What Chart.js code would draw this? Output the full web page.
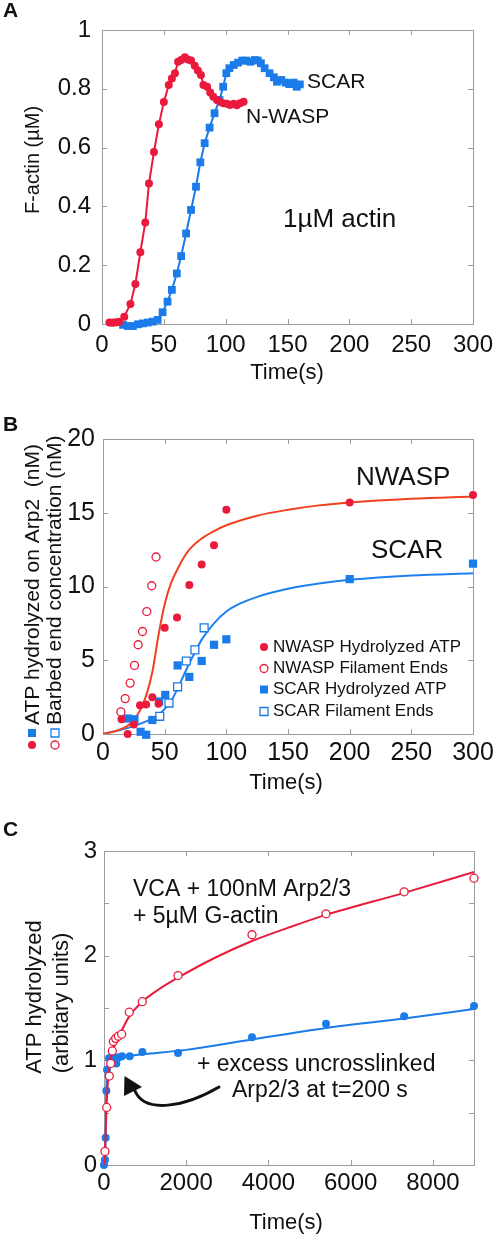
<!DOCTYPE html>
<html>
<head>
<meta charset="utf-8">
<script src="https://cdn.jsdelivr.net/npm/chart.js@4.4.1/dist/chart.umd.min.js"></script>
<style>
  body { margin: 0; background: #fff; width: 493px; height: 1237px; position: relative; overflow: hidden; }
  canvas { position: absolute; left: 0; }
</style>
</head>
<body>
<canvas id="chartA" width="493" height="398" style="top:0px"></canvas>
<canvas id="chartB" width="493" height="404" style="top:398px"></canvas>
<canvas id="chartC" width="493" height="435" style="top:802px"></canvas>
<script>
// ---- panel A : F-actin polymerisation (1 uM actin)
var aNwaspTime = [6, 8, 10, 12, 14, 18, 23, 27, 31, 35, 38, 42, 46, 50, 54, 56.5, 59, 61.5, 64, 67,
                  69.5, 72, 75, 77.5, 80, 82, 85, 87.5, 90, 93, 95.5, 98, 101, 103.5, 106.5, 109, 111.5, 114.5];
var aNwaspActin = [0.005, 0.004, 0.005, 0.006, 0.008, 0.025, 0.068, 0.136, 0.244, 0.345, 0.478, 0.585, 0.679, 0.755,
                   0.813, 0.835, 0.853, 0.892, 0.898, 0.907, 0.900, 0.896, 0.878, 0.862, 0.847, 0.813, 0.807, 0.787,
                   0.773, 0.762, 0.756, 0.751, 0.749, 0.745, 0.749, 0.744, 0.751, 0.756];
var aScarTime = [17, 21, 25, 29, 33, 37, 41, 45, 49, 53, 56.5, 60.5, 64, 68, 72, 76, 79.5, 83, 87, 91, 95, 98,
                 100.5, 103, 106.5, 110, 113.5, 116.5, 120, 123.5, 126, 128.5, 131.5, 135.5, 139, 141.5, 145,
                 148.5, 151.5, 155, 157.5, 160];
var aScarActin = [-0.003, -0.007, -0.007, -0.001, 0.002, 0.005, 0.008, 0.014, 0.04, 0.076, 0.116, 0.172, 0.231,
                  0.308, 0.388, 0.467, 0.55, 0.615, 0.668, 0.717, 0.762, 0.807, 0.853, 0.870, 0.881, 0.889, 0.896,
                  0.896, 0.892, 0.898, 0.896, 0.887, 0.870, 0.853, 0.839, 0.824, 0.830, 0.821, 0.816, 0.821, 0.807, 0.815];

// ---- panel B : ATP hydrolysis on Arp2 / barbed ends
var bNwaspAtpTime = [15, 20, 25, 30, 35, 40, 45, 50, 60, 70, 80, 90, 100, 200, 300];
var bNwaspAtp = [1.0, 0.0, 0.65, 1.95, 2.0, 2.5, 2.05, 7.2, 7.9, 10.1, 11.5, 12.8, 15.2, 15.7, 16.2];
var bNwaspEndTime = [14.5, 18, 22, 25.5, 28.5, 32, 35.5, 39.5, 43];
var bNwaspEnds = [1.5, 2.4, 3.45, 4.65, 6.05, 6.95, 8.3, 10.05, 12.0];
var bScarAtpTime = [20, 25.5, 30.5, 35, 40, 45.5, 50.5, 60.5, 70, 80, 90, 100, 200, 300];
var bScarAtp = [1.05, 1.0, 0.15, -0.05, 0.95, 2.2, 2.65, 4.65, 3.87, 4.95, 6.05, 6.42, 10.5, 11.55];
var bScarEndTime = [46, 53.5, 60.5, 67.5, 74.5, 82];
var bScarEnds = [1.2, 2.1, 3.2, 4.95, 5.7, 7.2];
var bNwaspFitTime = [0, 10, 20, 25, 30, 35, 40, 45, 50, 55, 60, 65, 70, 80, 90, 100, 125, 150, 175, 200, 250, 300];
var bNwaspFit = [0, 0.2, 0.55, 0.95, 1.6, 2.6, 4.2, 6.7, 8.8, 10.2, 11.1, 11.9, 12.5, 13.25, 13.75, 14.15, 14.8, 15.2, 15.5, 15.7, 15.95, 16.1];
var bScarFitTime = [0, 20, 35, 45, 50, 55, 60, 65, 70, 75, 80, 90, 100, 110, 125, 150, 175, 200, 250, 300];
var bScarFit = [0, 0.4, 0.85, 1.3, 1.7, 2.2, 3.0, 3.9, 4.8, 5.6, 6.4, 7.5, 8.3, 8.8, 9.3, 9.85, 10.2, 10.45, 10.75, 10.9];

// ---- panel C : long time course
var cTimeTicks = [0, 2000, 4000, 6000, 8000];
var cOpenTime = [24, 65, 129, 163, 202, 227, 284, 348, 430, 616, 932, 1800, 3600, 5400, 7300, 9000];
var cOpenAtp = [0.13, 0.55, 0.85, 0.97, 1.09, 1.18, 1.21, 1.23, 1.25, 1.46, 1.56, 1.81, 2.2, 2.4, 2.61, 2.74];
var cFilledTime = [0, 24, 40, 57, 73, 122, 187, 260, 300, 365, 438, 625, 933, 1800, 3600, 5400, 7300, 9000];
var cFilledAtp = [0, 0.05, 0.26, 0.71, 0.91, 1.02, 1.03, 1.03, 0.97, 1.03, 1.04, 1.04, 1.08, 1.07, 1.22, 1.35, 1.42, 1.52];
var cOpenFitTime = [0, 20, 40, 65, 100, 150, 200, 300, 450, 600, 900, 1300, 1800, 2700, 3600, 4500, 5400, 7300, 9000];
var cOpenFit = [0, 0.1, 0.3, 0.58, 0.82, 0.98, 1.08, 1.18, 1.3, 1.41, 1.55, 1.67, 1.79, 1.98, 2.14, 2.27, 2.39, 2.6, 2.8];
var cFilledFitTime = [0, 20, 40, 57, 75, 110, 200, 500, 1000, 2000, 3600, 5400, 7300, 9000];
var cFilledFit = [0, 0.05, 0.28, 0.72, 0.93, 1.0, 1.02, 1.04, 1.06, 1.1, 1.2, 1.31, 1.4, 1.49];

var RED = '#ea1a3c';
var BLUE = '#1b7be9';
var RED_FIT = '#f2401f';
var BLUE_FIT = '#1e80ee';
var FRAME = '#9c9c9c';
var FONT = "'Liberation Sans', Arial, Helvetica, sans-serif";

Chart.defaults.font.family = FONT;
Chart.defaults.color = '#111';
Chart.defaults.animation = false;
Chart.defaults.events = [];
Chart.defaults.plugins.legend.display = false;
Chart.defaults.plugins.tooltip.enabled = false;

function pts(xs, ys) {
    return xs.map(function (x, i) { return {x: x, y: ys[i]}; });
}

function plain(v) { return String(Math.round(v * 1000) / 1000); }

// linear axis with a fixed box size so the plot areas line up with the figure
function axis(min, max, step, size, pad, fixed, horizontal, cb, tickList) {
    var a = {
        type: 'linear', min: min, max: max,
        grid: {display: false, drawTicks: false},
        border: {display: false},
        ticks: {
            stepSize: step, font: {size: size}, padding: pad, includeBounds: false,
            maxRotation: 0, autoSkip: false, callback: cb || plain
        },
        afterFit: function (s) {
            if (horizontal) { s.height = fixed; s.paddingLeft = 0; s.paddingRight = 0; }
            else { s.width = fixed; s.paddingTop = 0; s.paddingBottom = 0; }
        }
    };
    if (tickList) {
        a.afterBuildTicks = function (s) {
            s.ticks = tickList.map(function (v) { return {value: v}; });
        };
    }
    return a;
}

// grey box with inward tick marks on all four sides
var framePlugin = {
    id: 'frame',
    beforeDatasetsDraw: function (chart) {
        var ctx = chart.ctx, a = chart.chartArea, x = chart.scales.x, y = chart.scales.y;
        ctx.save();
        ctx.strokeStyle = FRAME;
        ctx.lineWidth = 1;
        ctx.strokeRect(a.left + 0.5, a.top + 0.5, a.width, a.height);
        ctx.beginPath();
        x.ticks.forEach(function (t) {
            var px = Math.round(x.getPixelForValue(t.value)) + 0.5;
            ctx.moveTo(px, a.top); ctx.lineTo(px, a.top + 5);
            ctx.moveTo(px, a.bottom); ctx.lineTo(px, a.bottom - 5);
        });
        y.ticks.forEach(function (t) {
            var py = Math.round(y.getPixelForValue(t.value)) + 0.5;
            ctx.moveTo(a.left, py); ctx.lineTo(a.left + 5, py);
            ctx.moveTo(a.right, py); ctx.lineTo(a.right - 5, py);
        });
        ctx.stroke();
        ctx.restore();
    }
};

function textPlugin(items) {
    return {
        id: 'texts',
        afterDraw: function (chart) {
            var ctx = chart.ctx;
            items.forEach(function (it) {
                ctx.save();
                ctx.font = (it.bold ? 'bold ' : '') + it.size + 'px ' + FONT;
                ctx.fillStyle = '#111';
                ctx.textAlign = it.align || 'left';
                ctx.textBaseline = 'middle';
                ctx.translate(it.x, it.y);
                if (it.rot) ctx.rotate(-Math.PI / 2);
                ctx.fillText(it.text, 0, 0);
                ctx.restore();
            });
        }
    };
}

function marker(ctx, style, x, y, color, filled) {
    ctx.save();
    ctx.fillStyle = filled ? color : '#fff';
    ctx.strokeStyle = color;
    ctx.lineWidth = 1.3;
    ctx.beginPath();
    if (style === 'circle') ctx.arc(x, y, 4, 0, Math.PI * 2);
    else ctx.rect(x - 4, y - 4, 8, 8);
    ctx.fill();
    if (!filled) ctx.stroke();
    ctx.restore();
}

//Panel A
new Chart(document.getElementById('chartA'), {
    type: 'scatter',
    data: {
        datasets: [
            {
                label: 'N-WASP', data: pts(aNwaspTime, aNwaspActin), showLine: true,
                borderColor: RED, borderWidth: 2, pointStyle: 'circle', pointRadius: 4,
                pointBackgroundColor: RED, pointBorderWidth: 0, clip: false, order: 0
            },
            {
                label: 'SCAR', data: pts(aScarTime, aScarActin), showLine: true,
                borderColor: BLUE, borderWidth: 2, pointStyle: 'rect', pointRadius: 5.5,
                pointBackgroundColor: BLUE, pointBorderWidth: 0, clip: false, order: 1
            }
        ]
    },
    options: {
        responsive: false,
        layout: {padding: {top: 30, right: 20, left: 0, bottom: 0}},
        scales: {
            x: axis(0, 300, 50, 24, 7, 74, true),
            y: axis(0, 1, 0.2, 24, 11, 102, false)
        }
    },
    plugins: [framePlugin, textPlugin([
        {text: 'A', x: 3, y: 11, size: 21, bold: true},
        {text: 'F-actin (\u00b5M)', x: 33, y: 160, size: 20, align: 'center', rot: true},
        {text: 'Time(s)', x: 287, y: 373, size: 22, align: 'center'},
        {text: 'SCAR', x: 307, y: 82, size: 21},
        {text: 'N-WASP', x: 246, y: 117, size: 21},
        {text: '1\u00b5M actin', x: 283, y: 220, size: 26}
    ])]
});

//Panel B
var legendB = {
    id: 'legendB',
    afterDraw: function (chart) {
        var ctx = chart.ctx;
        var rows = [249, 270.5, 291.5, 313.5];
        chart.data.datasets.filter(function (d) { return d.inLegend; }).forEach(function (d, i) {
            marker(ctx, d.pointStyle, 264, rows[i], d.borderColor, d.pointBackgroundColor !== '#fff');
            ctx.save();
            ctx.font = '17px ' + FONT;
            ctx.fillStyle = '#111';
            ctx.textBaseline = 'middle';
            ctx.fillText(d.label, 273, rows[i]);
            ctx.restore();
        });
        // symbols in front of the rotated y titles
        marker(ctx, 'rect', 32, 335, BLUE, true);
        marker(ctx, 'circle', 32, 347, RED, true);
        marker(ctx, 'rect', 55, 335, BLUE, false);
        marker(ctx, 'circle', 55, 347, RED, false);
    }
};

new Chart(document.getElementById('chartB'), {
    type: 'scatter',
    data: {
        datasets: [
            {
                label: 'NWASP Hydrolyzed ATP', inLegend: true, data: pts(bNwaspAtpTime, bNwaspAtp),
                borderColor: RED, pointStyle: 'circle', pointRadius: 4, pointBackgroundColor: RED,
                pointBorderWidth: 0, clip: false, order: 1
            },
            {
                label: 'NWASP Filament Ends', inLegend: true, data: pts(bNwaspEndTime, bNwaspEnds),
                borderColor: RED, pointStyle: 'circle', pointRadius: 4, pointBackgroundColor: '#fff',
                pointBorderColor: RED, pointBorderWidth: 1.3, clip: false, order: 1
            },
            {
                label: 'SCAR Hydrolyzed ATP', inLegend: true, data: pts(bScarAtpTime, bScarAtp),
                borderColor: BLUE, pointStyle: 'rect', pointRadius: 5.8, pointBackgroundColor: BLUE,
                pointBorderWidth: 0, clip: false, order: 1
            },
            {
                label: 'SCAR Filament Ends', inLegend: true, data: pts(bScarEndTime, bScarEnds),
                borderColor: BLUE, pointStyle: 'rect', pointRadius: 5.6, pointBackgroundColor: '#fff',
                pointBorderColor: BLUE, pointBorderWidth: 1.3, clip: false, order: 1
            },
            {
                label: 'NWASP fit', data: pts(bNwaspFitTime, bNwaspFit), showLine: true,
                borderColor: RED_FIT, borderWidth: 2, pointRadius: 0, cubicInterpolationMode: 'monotone', order: 5
            },
            {
                label: 'SCAR fit', data: pts(bScarFitTime, bScarFit), showLine: true,
                borderColor: BLUE_FIT, borderWidth: 2, pointRadius: 0, cubicInterpolationMode: 'monotone', order: 5
            }
        ]
    },
    options: {
        responsive: false,
        layout: {padding: {top: 41, right: 20, left: 0, bottom: 0}},
        scales: {
            x: axis(0, 300, 50, 25, 4, 68, true),
            y: axis(0, 20, 5, 25, 8, 103, false)
        }
    },
    plugins: [framePlugin, legendB, textPlugin([
        {text: 'B', x: 3, y: 27, size: 21, bold: true},
        {text: 'ATP hydrolyzed on Arp2  (nM)', x: 33, y: 327, size: 21, rot: true},
        {text: 'Barbed end concentration (nM)', x: 55, y: 327, size: 21, rot: true},
        {text: 'Time(s)', x: 286, y: 385, size: 22, align: 'center'},
        {text: 'NWASP', x: 356, y: 80, size: 26},
        {text: 'SCAR', x: 371, y: 153, size: 26}
    ])]
});

//Panel C
var arrowC = {
    id: 'arrowC',
    afterDraw: function (chart) {
        var ctx = chart.ctx;
        ctx.save();
        ctx.strokeStyle = '#111';
        ctx.fillStyle = '#111';
        ctx.lineWidth = 3;
        ctx.lineCap = 'round';
        ctx.beginPath();
        ctx.moveTo(219, 285);
        ctx.bezierCurveTo(185, 305, 145, 312, 135, 289);
        ctx.stroke();
        ctx.beginPath();
        ctx.moveTo(124.5, 274);
        ctx.lineTo(124, 294);
        ctx.lineTo(142, 285);
        ctx.closePath();
        ctx.fill();
        ctx.restore();
    }
};

new Chart(document.getElementById('chartC'), {
    type: 'scatter',
    data: {
        datasets: [
            {
                label: 'VCA + Arp2/3', data: pts(cOpenTime, cOpenAtp),
                pointStyle: 'circle', pointRadius: 4, pointBackgroundColor: '#fff',
                pointBorderColor: RED, pointBorderWidth: 1.3, clip: false, order: 0
            },
            {
                label: '+ excess uncrosslinked Arp2/3', data: pts(cFilledTime, cFilledAtp),
                pointStyle: 'circle', pointRadius: 4, pointBackgroundColor: BLUE,
                pointBorderWidth: 0, clip: false, order: 2
            },
            {
                label: 'fit open', data: pts(cOpenFitTime, cOpenFit), showLine: true,
                borderColor: RED, borderWidth: 2, pointRadius: 0, cubicInterpolationMode: 'monotone', order: 1
            },
            {
                label: 'fit filled', data: pts(cFilledFitTime, cFilledFit), showLine: true,
                borderColor: BLUE, borderWidth: 2, pointRadius: 0, cubicInterpolationMode: 'monotone', order: 3
            }
        ]
    },
    options: {
        responsive: false,
        layout: {padding: {top: 49, right: 19, left: 0, bottom: 0}},
        scales: {
            x: axis(0, 9000, 2000, 24, 4, 72, true, function (v) { return String(v); }, cTimeTicks),
            y: axis(0, 3, 0.5, 24, 7, 104, false, function (v) { return Number.isInteger(v) ? String(v) : ''; })
        }
    },
    plugins: [framePlugin, arrowC, textPlugin([
        {text: 'C', x: 3, y: 28, size: 21, bold: true},
        {text: 'ATP hydrolyzed', x: 35, y: 195, size: 22, align: 'center', rot: true},
        {text: '(arbitary units)', x: 62, y: 201, size: 22, align: 'center', rot: true},
        {text: 'Time(s)', x: 286, y: 421, size: 22, align: 'center'},
        {text: 'VCA + 100nM Arp2/3', x: 133, y: 88, size: 23},
        {text: '+ 5\u00b5M G-actin', x: 133, y: 115, size: 23},
        {text: '+ excess uncrosslinked', x: 197, y: 263, size: 23},
        {text: 'Arp2/3 at t=200 s', x: 232, y: 289, size: 23}
    ])]
});
</script>
</body>
</html>
